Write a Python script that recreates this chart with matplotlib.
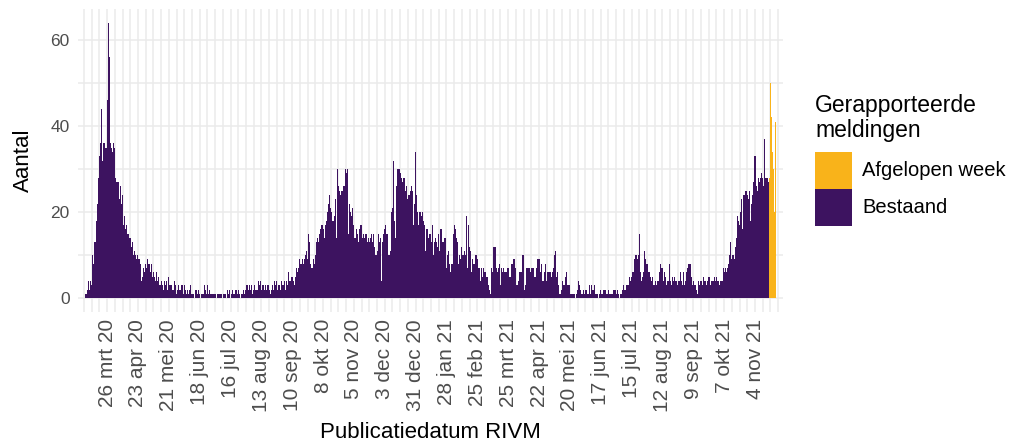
import pandas as pd
import matplotlib
matplotlib.use("Agg")
import matplotlib.pyplot as plt
import matplotlib.dates as mdates
from matplotlib.patches import Rectangle
from matplotlib.ticker import MultipleLocator

plt.rcParams['font.family'] = ['Liberation Sans', 'DejaVu Sans']

# dagelijkse meldingen per publicatiedatum, vanaf ma 2 mrt 2020 (een rij per week)
bestaand = [
    0, 0, 0, 0, 1, 1, 2,
    4, 2, 4, 3, 10, 8, 13,
    18, 22, 28, 33, 36, 44, 32,
    36, 36, 35, 46, 64, 56, 36,
    35, 34, 36, 35, 28, 27, 27,
    23, 26, 22, 24, 17, 19, 16,
    17, 15, 14, 14, 12, 13, 10,
    11, 10, 9, 10, 9, 8, 4,
    5, 7, 6, 8, 7, 9, 8,
    6, 8, 5, 6, 5, 4, 6,
    4, 5, 3, 4, 3, 2, 4,
    3, 4, 2, 5, 3, 3, 2,
    2, 4, 3, 1, 2, 3, 2,
    2, 3, 1, 3, 2, 1, 2,
    1, 2, 3, 1, 1, 0, 2,
    2, 1, 2, 1, 0, 1, 1,
    3, 2, 1, 3, 1, 2, 1,
    1, 1, 1, 1, 0, 1, 1,
    1, 1, 1, 0, 1, 1, 0,
    2, 1, 2, 0, 1, 2, 1,
    1, 2, 1, 2, 1, 0, 1,
    1, 2, 1, 2, 3, 2, 3,
    2, 3, 1, 2, 3, 2, 2,
    4, 3, 4, 2, 3, 3, 2,
    3, 2, 3, 2, 1, 2, 3,
    2, 4, 3, 4, 2, 3, 2,
    4, 3, 3, 4, 2, 4, 3,
    6, 4, 5, 5, 4, 3, 5,
    7, 6, 7, 9, 8, 9, 8,
    9, 10, 11, 9, 15, 13, 8,
    7, 9, 8, 10, 13, 14, 13,
    15, 16, 17, 16, 14, 17, 18,
    20, 22, 24, 21, 20, 18, 19,
    23, 14, 30, 26, 25, 24, 25,
    25, 26, 30, 29, 30, 15, 22,
    20, 19, 21, 17, 14, 16, 15,
    13, 16, 17, 17, 14, 15, 14,
    15, 13, 14, 13, 14, 15, 13,
    15, 12, 10, 11, 15, 13, 14,
    4, 13, 15, 16, 17, 15, 10,
    10, 11, 20, 21, 32, 18, 14,
    26, 30, 30, 29, 28, 27, 28,
    28, 25, 26, 23, 24, 25, 26,
    25, 17, 22, 34, 24, 20, 17,
    20, 19, 20, 18, 17, 11, 16,
    16, 14, 15, 13, 17, 10, 13,
    14, 13, 12, 15, 11, 16, 13,
    13, 14, 14, 7, 10, 11, 8,
    6, 8, 15, 17, 16, 14, 13,
    8, 10, 9, 12, 10, 11, 10,
    19, 7, 17, 12, 11, 6, 9,
    8, 10, 10, 9, 7, 7, 4,
    7, 5, 7, 6, 5, 5, 3,
    2, 1, 7, 6, 12, 12, 7,
    6, 7, 8, 3, 7, 6, 7,
    6, 6, 7, 7, 5, 5, 8,
    8, 9, 9, 7, 3, 4, 6,
    6, 6, 10, 10, 2, 3, 7,
    7, 7, 6, 7, 7, 7, 5,
    5, 7, 9, 9, 6, 8, 4,
    4, 6, 8, 4, 6, 6, 6,
    5, 6, 7, 10, 11, 5, 6,
    3, 1, 2, 4, 3, 3, 5,
    6, 3, 3, 3, 1, 1, 1,
    1, 0, 1, 2, 4, 3, 2,
    1, 2, 1, 2, 2, 1, 1,
    3, 1, 3, 2, 3, 1, 1,
    1, 0, 1, 2, 1, 1, 2,
    2, 1, 1, 2, 1, 1, 1,
    1, 2, 2, 1, 2, 1, 0,
    1, 1, 2, 3, 2, 3, 3,
    3, 5, 4, 5, 6, 6, 9,
    10, 9, 10, 15, 6, 4, 5,
    6, 11, 9, 8, 6, 6, 5,
    4, 5, 3, 3, 4, 3, 4,
    6, 8, 7, 7, 4, 6, 5,
    3, 4, 8, 4, 3, 5, 4,
    5, 4, 4, 3, 4, 6, 4,
    3, 6, 3, 4, 6, 7, 8,
    8, 5, 3, 4, 3, 3, 2,
    1, 4, 3, 4, 3, 5, 4,
    4, 3, 4, 5, 5, 3, 4,
    4, 5, 4, 5, 4, 4, 3,
    4, 4, 7, 6, 7, 6, 7,
    8, 10, 13, 9, 10, 9, 12,
    14, 19, 18, 17, 20, 23, 16,
    24, 25, 25, 24, 23, 25, 18,
    22, 24, 27, 33, 26, 25, 28,
    27, 28, 29, 28, 26, 37, 28,
    28, 27,
]
afgelopen_week = [28, 50, 42, 34, 30, 20, 41]

legenda_labels = ['Afgelopen week', 'Bestaand']
maanden = ['jan', 'feb', 'mrt', 'apr', 'mei', 'jun',
           'jul', 'aug', 'sep', 'okt', 'nov', 'dec']
tick_datums = pd.date_range('2020-03-26', '2021-11-04', freq='28D')
tick_labels = [f"{d.day} {maanden[d.month - 1]} {d.strftime('%y')}" for d in tick_datums]

start = pd.Timestamp('2020-03-02')
datums_b = pd.date_range(start, periods=len(bestaand), freq='D')
datums_a = pd.date_range(datums_b[-1] + pd.Timedelta(days=1), periods=len(afgelopen_week), freq='D')

paars = '#3d1360'
geel = '#f9b31a'
grid_kleur = '#ebebeb'
W, H = 1016, 445

fig = plt.figure(figsize=(W / 100, H / 100), dpi=100)
ax = fig.add_axes([78 / W, 1 - 312 / H, 705 / W, 303 / H])

ax.bar(datums_b, bestaand, width=1.0, color=paars, linewidth=0, zorder=2)
ax.bar(datums_a, afgelopen_week, width=1.0, color=geel, linewidth=0, zorder=2)

ax.set_xlim(start - pd.Timedelta(days=2.4), start + pd.Timedelta(days=637.4))
ax.set_ylim(-3.2, 67.2)

ax.set_xticks(tick_datums)
ax.set_xticklabels(tick_labels, rotation=90, fontsize=15, color='#4d4d4d')
ax.xaxis.set_minor_locator(mdates.WeekdayLocator(byweekday=mdates.TH))
ax.yaxis.set_major_locator(MultipleLocator(20))
ax.yaxis.set_minor_locator(MultipleLocator(10))
ax.tick_params(axis='y', labelsize=12.5, labelcolor='#4d4d4d', pad=6)
ax.tick_params(axis='x', pad=5)
ax.tick_params(which='both', length=0)

ax.grid(True, which='both', color=grid_kleur, linewidth=1.1, zorder=0)
ax.set_axisbelow(True)
for s in ax.spines.values():
    s.set_visible(False)

ax.set_ylabel('Aantal', fontsize=16, labelpad=12)
ax.set_xlabel('Publicatiedatum RIVM', fontsize=16, labelpad=7)

# legenda
fig.text(815 / W, 1 - 94 / H, 'Gerapporteerde\nmeldingen', fontsize=16.5,
         ha='left', va='top', linespacing=1.1)
for i, (kleur, label) in enumerate(zip([geel, paars], legenda_labels)):
    top = 152 + i * 37
    fig.add_artist(Rectangle((815 / W, 1 - (top + 37) / H), 37 / W, 37 / H,
                             transform=fig.transFigure, facecolor=kleur, edgecolor='none'))
    fig.text(862 / W, 1 - (top + 18.5) / H, label, fontsize=14.5, ha='left', va='center')

fig.savefig('out.png', dpi=100)
